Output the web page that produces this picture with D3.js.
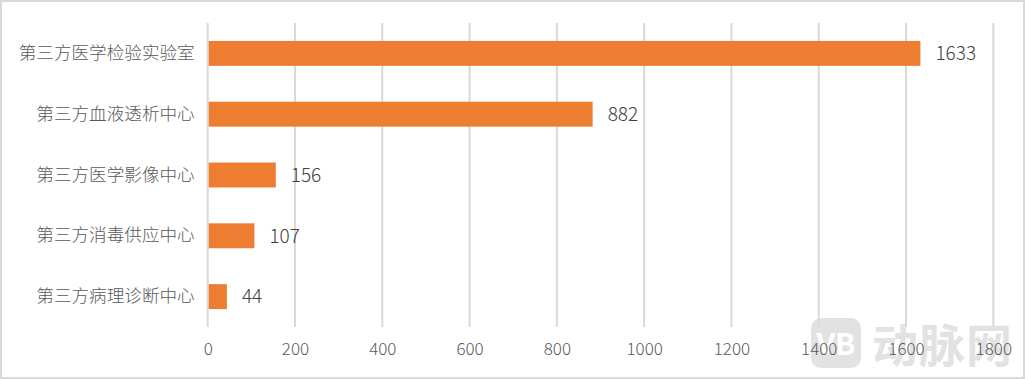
<!DOCTYPE html>
<html><head><meta charset="utf-8">
<script src="https://cdn.jsdelivr.net/npm/d3@7"></script>
<style>body{margin:0;background:#fff}svg{display:block}</style>
</head><body>
<script>
const categories = ["第三方医学检验实验室","第三方血液透析中心","第三方医学影像中心","第三方消毒供应中心","第三方病理诊断中心"];
const values = [1633, 882, 156, 107, 44];
const ticks = [0,200,400,600,800,1000,1200,1400,1600,1800];

const W = 1025, H = 379;
const svg = d3.select("body").append("svg").attr("width", W).attr("height", H);
svg.append("rect").attr("x",1).attr("y",1).attr("width",W-2).attr("height",H-2)
  .attr("fill","#fff").attr("stroke","#d9d9d9").attr("stroke-width",2);

const font = "'Noto Sans CJK SC','Noto Sans',sans-serif";
const x = d3.scaleLinear().domain([0,1800]).range([207.7,993.3]);
const y = d3.scaleBand().domain(categories).range([23,327]).paddingInner(0.59).paddingOuter(0.295);

// watermark
const wm = svg.append("g").attr("opacity",0.75);
wm.append("rect").attr("x",811).attr("y",318).attr("width",50).attr("height",50).attr("rx",10)
  .attr("fill","#d9d9d9");
wm.append("text").attr("x",836).attr("y",355).attr("text-anchor","middle")
  .attr("font-family",font).attr("font-weight",700).attr("font-size",30).attr("fill","#fff").text("VB");
wm.append("text").attr("x",872).attr("y",362).attr("font-family",font).attr("font-weight",700)
  .attr("font-size",46).attr("fill","#d9d9d9").attr("letter-spacing",1).text("动脉网");

// gridlines
svg.append("g").selectAll("line").data(ticks).join("line")
  .attr("x1",d=>x(d)).attr("x2",d=>x(d)).attr("y1",23).attr("y2",327)
  .attr("stroke","#d9d9d9").attr("stroke-width",2);

// bars
svg.append("g").selectAll("rect").data(values).join("rect")
  .attr("x",x(0)+1).attr("y",(d,i)=>y(categories[i]))
  .attr("width",d=>x(d)-x(0)-1).attr("height",y.bandwidth())
  .attr("fill","#ED7D31");

// value labels
svg.append("g").selectAll("text").data(values).join("text")
  .attr("x",d=>x(d)+15).attr("y",(d,i)=>y(categories[i])+y.bandwidth()/2)
  .attr("dy","0.36em").attr("font-family",font).attr("font-weight",300).attr("font-size",19).attr("fill","#404040")
  .text(d=>d);

// category labels
const yAxis = d3.axisLeft(y).tickSize(0).tickPadding(13);
const ga = svg.append("g").attr("transform",`translate(${x(0)},0)`).call(yAxis);
ga.select(".domain").remove();
ga.selectAll("text").attr("font-family",font).attr("font-weight",300).attr("font-size",17.6).attr("fill","#595959");

// x axis labels
const xAxis = d3.axisBottom(x).tickValues(ticks).tickFormat(d3.format("d")).tickSize(0).tickPadding(16);
const gx = svg.append("g").attr("transform","translate(0,327)").call(xAxis);
gx.select(".domain").remove();
gx.selectAll("text").attr("font-family",font).attr("font-weight",300).attr("font-size",17).attr("fill","#595959");
</script>
</body></html>
